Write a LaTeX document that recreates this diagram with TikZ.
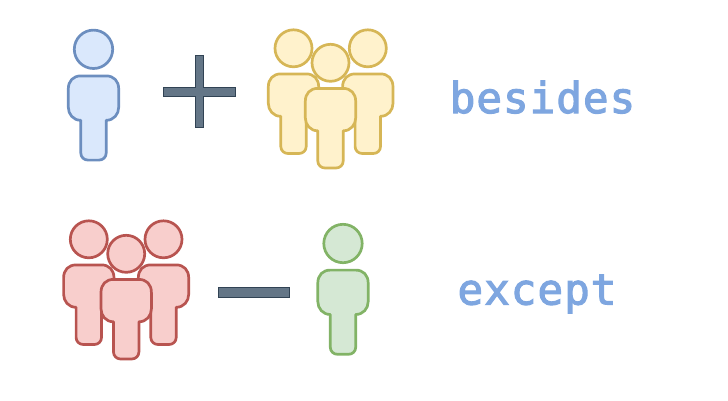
\documentclass[tikz,border=0pt]{standalone}
\usepackage{fontspec}
\newfontfamily\wordfont[FakeBold=2.6,LetterSpace=2.5]{DejaVu Sans Mono}
\definecolor{blueF}{HTML}{DAE8FC}\definecolor{blueD}{HTML}{6C8EBF}
\definecolor{yelF}{HTML}{FFF2CC}\definecolor{yelD}{HTML}{D6B656}
\definecolor{redF}{HTML}{F8CECC}\definecolor{redD}{HTML}{B85450}
\definecolor{grnF}{HTML}{D5E8D4}\definecolor{grnD}{HTML}{82B366}
\definecolor{opF}{HTML}{647687}\definecolor{opD}{HTML}{314354}
\definecolor{wordC}{HTML}{7EA6E0}
\tikzset{
  figure/.style={line width=2.7pt,line join=round},
  opshape/.style={fill=opF,draw=opD,line width=1pt},
  word/.style={text=wordC,font=\wordfont\fontsize{42.5}{44}\selectfont,anchor=base,inner sep=0pt},
}
% #1 centre x, #2 head centre y, #3 fill, #4 stroke, #5 head radius, #6 body top offset, #7 shoulder offset, #8 foot offset
\newcommand{\personfig}[8]{%
  \draw[figure,fill=#3,draw=#4] (#1,#2) circle[radius=#5];
  \draw[figure,fill=#3,draw=#4]
    ({#1-12.7},{#2+#8-7}) -- ({#1-12.7},{#2+#7})
    .. controls ({#1-20.2},{#2+#7}) and ({#1-25.2},{#2+#7-6}) .. ({#1-25.2},{#2+#7-13})
    -- ({#1-25.2},{#2+#6+13})
    .. controls ({#1-25.2},{#2+#6+5}) and ({#1-20.2},{#2+#6}) .. ({#1-12.7},{#2+#6})
    -- ({#1+12.7},{#2+#6})
    .. controls ({#1+20.2},{#2+#6}) and ({#1+25.2},{#2+#6+5}) .. ({#1+25.2},{#2+#6+13})
    -- ({#1+25.2},{#2+#7-13})
    .. controls ({#1+25.2},{#2+#7-6}) and ({#1+20.2},{#2+#7}) .. ({#1+12.7},{#2+#7})
    -- ({#1+12.7},{#2+#8-7})
    .. controls ({#1+12.7},{#2+#8-3}) and ({#1+9.5},{#2+#8}) .. ({#1+5.5},{#2+#8})
    -- ({#1-5.5},{#2+#8})
    .. controls ({#1-9.5},{#2+#8}) and ({#1-12.7},{#2+#8-3}) .. ({#1-12.7},{#2+#8-7})
    -- cycle;
}
\begin{document}
\begin{tikzpicture}[x=1pt,y=-1pt]
\useasboundingbox (0,0) rectangle (728,400);
\personfig{93.5}{49.3}{blueF}{blueD}{19.2}{26.6}{71}{110.8}
\draw[opshape] (195,55.7) -- (203.3,55.7) -- (203.3,87.7) -- (235,87.7) -- (235,96) -- (203.3,96) -- (203.3,127.3) -- (195,127.3) -- (195,96) -- (163,96) -- (163,87.7) -- (195,87.7) -- cycle;
\personfig{293.5}{48.3}{yelF}{yelD}{18.5}{25.6}{68}{105.2}
\personfig{367.8}{48.3}{yelF}{yelD}{18.5}{25.6}{68}{105.2}
\personfig{330.5}{62.8}{yelF}{yelD}{18.5}{25.6}{68}{105.2}
\node[word] (besides) at (542.5,113) {besides};
\personfig{88.8}{239.3}{redF}{redD}{18.5}{25.6}{68}{105.2}
\personfig{163.5}{239.3}{redF}{redD}{18.5}{25.6}{68}{105.2}
\personfig{126.2}{253.8}{redF}{redD}{18.5}{25.6}{68}{105.2}
\draw[opshape] (218,287) rectangle (289.5,297.5);
\personfig{343}{243.5}{grnF}{grnD}{19.2}{26.6}{71}{110.8}
\node[word] (except) at (537,304.5) {except};
\end{tikzpicture}
\end{document}
